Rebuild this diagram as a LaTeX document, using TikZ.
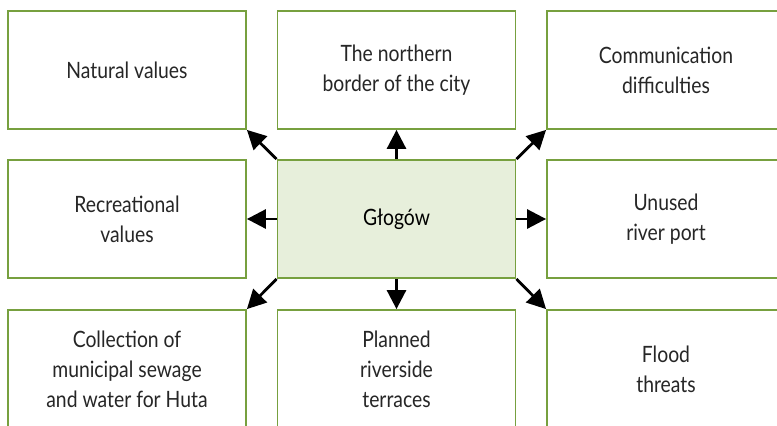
\documentclass[tikz,border=0pt]{standalone}
\usepackage{fontspec}
\setmainfont{Lato}[FakeStretch=0.86]
\usetikzlibrary{arrows.meta}

\definecolor{boxgreen}{HTML}{77A03F}
\definecolor{boxfill}{HTML}{E7EFDB}

\tikzset{
	topic/.style={shape=rectangle,draw=boxgreen,line width=1.8pt,fill=white,
		minimum width=238pt,minimum height=118pt,align=center,
		font=\fontsize{22.5}{30}\selectfont,text=black!85},
	hub/.style={topic,fill=boxfill,text=black},
	link/.style={line width=2.8pt,-{Triangle[length=19pt,width=19pt]}}
}

\begin{document}
\begin{tikzpicture}[x=1pt,y=-1pt]
	
	\useasboundingbox (0,0) rectangle (777,426);
	\clip (0,0) rectangle (777,426);
	
	\node[topic] (nat)   at (127, 70)   {Natural values};
	\node[topic] (north) at (396.5, 70) {The northern\\border of the city};
	\node[topic] (comm)  at (666, 70)   {Communication\\difficulties};
	\node[topic] (rec)   at (127, 219)  {Recreational\\values};
	\node[hub]   (glog)  at (396.5, 219) {Głogów};
	\node[topic] (port)  at (666, 219)  {Unused\\river port};
	\node[topic] (sew)   at (127, 369)  {Collection of\\municipal sewage\\and water for Huta};
	\node[topic] (terr)  at (396.5, 369) {Planned\\riverside\\terraces};
	\node[topic] (flood) at (666, 369)  {Flood\\threats};
	
	
	\path[link] (glog.north west) edge (nat.south east);
	\path[link] (glog.north)      edge (north.south);
	\path[link] (glog.north east) edge (comm.south west);
	\path[link] (glog.west)       edge (rec.east);
	\path[link] (glog.east)       edge (port.west);
	\path[link] (glog.south west) edge (sew.north east);
	\path[link] (glog.south)      edge (terr.north);
	\path[link] (glog.south east) edge (flood.north west);
	
\end{tikzpicture}
\end{document}
